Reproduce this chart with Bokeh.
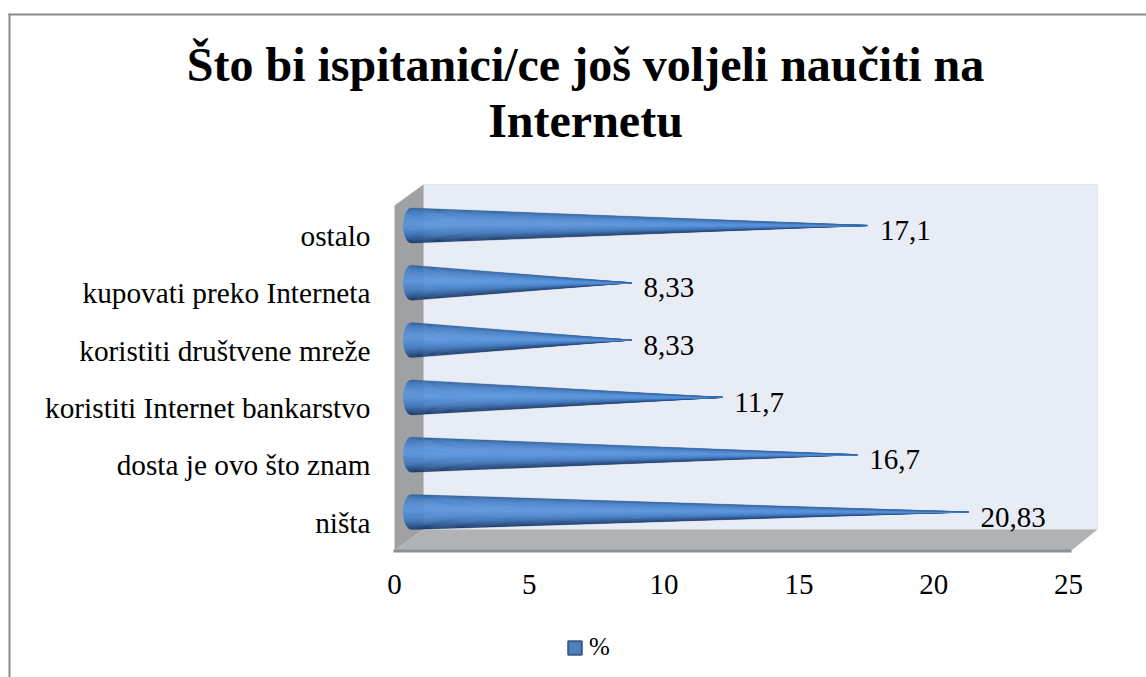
from bokeh.plotting import figure
from bokeh.models import Range1d, FixedTicker, Legend, LegendItem, ColumnDataSource, Label
from bokeh.core.properties import value
from bokeh.embed import file_html
from bokeh.resources import INLINE
import math

categories = ["ništa", "dosta je ovo što znam", "koristiti Internet bankarstvo",
              "koristiti društvene mreže", "kupovati preko Interneta", "ostalo"]
values = [20.83, 16.7, 11.7, 8.33, 8.33, 17.1]
value_labels = ["20,83", "16,7", "11,7", "8,33", "8,33", "17,1"]
x_ticks = [0, 5, 10, 15, 20, 25]
title_lines = ["Što bi ispitanici/ce još voljeli naučiti na", "Internetu"]
legend_label = "%"

W, H = 1146, 677
ORIGIN_X, ORIGIN_Y = 394, 522             # page px of x=0 and of the first category
PXX = 26.96                               # px per x unit
PXY = 57.3                                # px per category
FONT = "Liberation Serif"

X = lambda px: (px - ORIGIN_X) / PXX
Y = lambda py: (ORIGIN_Y - py) / PXY

p = figure(width=W, height=H, output_backend="svg", toolbar_location=None,
           x_range=Range1d(X(0), X(W)), y_range=Range1d(Y(H), Y(0)),
           min_border=0)
p.grid.visible = False
p.outline_line_color = None
p.background_fill_color = None

# box walls
p.patch([X(423), X(1097), X(1097), X(423)], [Y(529), Y(529), Y(184), Y(184)],
        fill_color="#E8ECF5", line_color="#E3E6EE", line_width=1)
p.patch([X(394), X(423), X(423), X(394)], [Y(550), Y(529), Y(184), Y(205)],
        fill_color="#A0A1A3", line_color=None)
p.patch([X(394), X(423), X(1097), X(1071)], [Y(550), Y(529), Y(529), Y(550)],
        fill_color="#B0B3B6", line_color=None)
p.patch([X(393), X(1071), X(1071), X(393)], [Y(549), Y(549), Y(552), Y(552)],
        fill_color="#8E8F91", line_color=None)

# cones made of longitudinal shading bands
band_stops = [(-1.00, "#1C3A63"), (-0.88, "#24477A"), (-0.74, "#2F5A94"), (-0.52, "#3F75B8"),
              (-0.24, "#4E88CF"), (0.08, "#5C96DD"), (0.36, "#5992D9"), (0.62, "#4F88CE"),
              (0.84, "#437ABE"), (0.95, "#3769A6"), (1.00, "#2F5E97")]

def mix(a, b, t):
    ca = [int(a[i:i + 2], 16) for i in (1, 3, 5)]
    cb = [int(b[i:i + 2], 16) for i in (1, 3, 5)]
    return "#%02x%02x%02x" % tuple(round(u + (v - u) * t) for u, v in zip(ca, cb))

def shade(f):
    for (f1, c1), (f2, c2) in zip(band_stops, band_stops[1:]):
        if f <= f2:
            return mix(c1, c2, (f - f1) / (f2 - f1))
    return band_stops[-1][1]

R = 17.5 / PXY
CONE_DY = 10.5 / PXY
BASE_X = 17 / PXX
CAP_RX = 8 / PXX
TIP = 0.46
N = 36
xs, ys, cs = [], [], []
for i, v in enumerate(values):
    yc = i + CONE_DY
    tip = v + TIP
    for k in range(N):
        f1 = -1 + 2 * k / N
        f2 = -1 + 2 * (k + 1) / N
        x_a = BASE_X - CAP_RX * math.sqrt(max(0, 1 - f1 * f1))
        x_b = BASE_X - CAP_RX * math.sqrt(max(0, 1 - f2 * f2))
        xs.append([x_a, tip, x_b])
        ys.append([yc + f1 * R, yc, yc + f2 * R])
        cs.append(shade((f1 + f2) / 2))
p.patches(xs, ys, fill_color=cs, line_color=cs, line_width=0.4)

# value labels
src = ColumnDataSource(dict(x=[v + TIP for v in values],
                            y=[i + CONE_DY for i in range(len(values))],
                            t=value_labels))
p.text("x", "y", text="t", source=src, x_offset=12, y_offset=5, text_align="left", text_baseline="middle",
       text_font=value(FONT), text_font_size="29px", text_color="#000000")

# axes, fixed on the box
p.xaxis.fixed_location = Y(552)
p.xaxis.ticker = FixedTicker(ticks=x_ticks)
p.xaxis.axis_line_color = None
p.xaxis.major_tick_line_color = None
p.xaxis.minor_tick_line_color = None
p.xaxis.major_label_standoff = 16
p.xaxis.major_label_text_font = FONT
p.xaxis.major_label_text_font_size = "29px"
p.xaxis.major_label_text_color = "#000000"

p.yaxis.fixed_location = 0
p.yaxis.ticker = FixedTicker(ticks=list(range(len(categories))))
p.yaxis.major_label_overrides = {i: c for i, c in enumerate(categories)}
p.yaxis.axis_line_color = None
p.yaxis.major_tick_line_color = None
p.yaxis.minor_tick_line_color = None
p.yaxis.major_label_standoff = 18
p.yaxis.major_label_text_font = FONT
p.yaxis.major_label_text_font_size = "29.3px"
p.yaxis.major_label_text_color = "#000000"

# title: two centred lines
for line, py in zip(title_lines, (63.5, 119.5)):
    p.add_layout(Label(x=X(585), y=Y(py), text=line, text_align="center", text_baseline="middle",
                       text_font=FONT, text_font_size="48px", text_font_style="bold",
                       text_color="#000000"))

# legend: its key is a quad lying outside the visible range
key = p.quad(left=[X(-40)], right=[X(-30)], top=[Y(-30)], bottom=[Y(-40)],
             fill_color="#4F81BD", line_color="#385D8A", line_width=2)
leg = Legend(items=[LegendItem(label=legend_label, renderers=[key])], location=(566, 16),
             orientation="horizontal", border_line_color=None, background_fill_alpha=0,
             glyph_width=17, glyph_height=17, label_text_font=FONT, label_text_font_size="25px",
             label_text_color="#000000", margin=0, padding=0, label_standoff=6)
p.add_layout(leg, "center")

# outer frame of the chart
p.quad(left=[X(8), X(8)], right=[X(W), X(10)], top=[Y(13), Y(13)], bottom=[Y(15), Y(H)],
       fill_color="#8C8C8C", line_color=None)

open("out.html", "w").write(file_html(p, INLINE))
